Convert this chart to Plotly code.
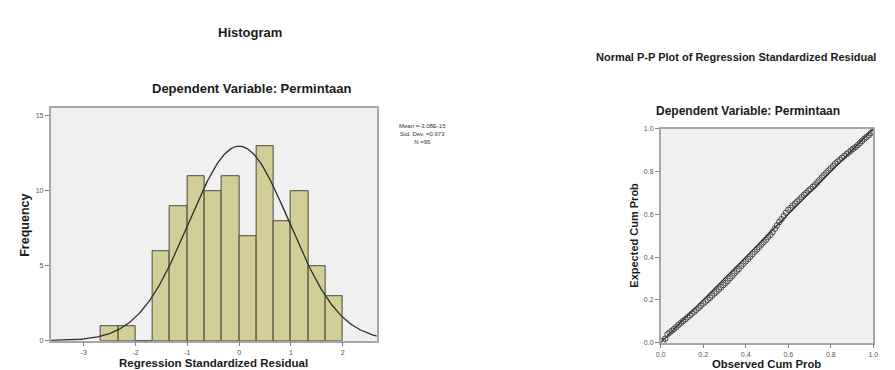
import numpy as np
import plotly.graph_objects as go

W, H = 895, 370

# ---------------- Data ----------------
# Histogram of regression standardized residuals
bin_starts = [-2.667, -2.333, -2.0, -1.667, -1.333, -1.0, -0.667, -0.333,
              0.0, 0.333, 0.667, 1.0, 1.333, 1.667]
bin_counts = [1, 1, 0, 6, 9, 11, 10, 11, 7, 13, 8, 10, 5, 3]
bin_width = 0.3333
res_mean = -3.08e-15
res_sd = 0.973
res_n = 95
hist_xticks = [-3, -2, -1, 0, 1, 2]
hist_yticks = [0, 5, 10, 15]

# Normal P-P plot
observed_cum = [0.011, 0.021, 0.032, 0.042, 0.053, 0.063, 0.074, 0.084, 0.095, 0.105,
                0.116, 0.126, 0.137, 0.147, 0.158, 0.168, 0.179, 0.189, 0.200, 0.211,
                0.221, 0.232, 0.242, 0.253, 0.263, 0.274, 0.284, 0.295, 0.305, 0.316,
                0.326, 0.337, 0.347, 0.358, 0.368, 0.379, 0.389, 0.400, 0.411, 0.421,
                0.432, 0.442, 0.453, 0.463, 0.474, 0.484, 0.495, 0.505, 0.516, 0.526,
                0.537, 0.547, 0.558, 0.568, 0.579, 0.589, 0.600, 0.611, 0.621, 0.632,
                0.642, 0.653, 0.663, 0.674, 0.684, 0.695, 0.705, 0.716, 0.726, 0.737,
                0.747, 0.758, 0.768, 0.779, 0.789, 0.800, 0.811, 0.821, 0.832, 0.842,
                0.853, 0.863, 0.874, 0.884, 0.895, 0.905, 0.916, 0.926, 0.937, 0.947,
                0.958, 0.968, 0.979, 0.989, 1.000]
expected_cum = [0.008, 0.018, 0.039, 0.047, 0.056, 0.064, 0.073, 0.083, 0.092, 0.101,
                0.109, 0.118, 0.127, 0.136, 0.145, 0.154, 0.163, 0.173, 0.183, 0.192,
                0.201, 0.210, 0.220, 0.230, 0.239, 0.249, 0.259, 0.269, 0.279, 0.289,
                0.301, 0.312, 0.324, 0.335, 0.345, 0.358, 0.369, 0.380, 0.391, 0.402,
                0.414, 0.425, 0.436, 0.447, 0.459, 0.470, 0.481, 0.493, 0.504, 0.517,
                0.533, 0.548, 0.564, 0.577, 0.592, 0.607, 0.621, 0.630, 0.641, 0.650,
                0.660, 0.669, 0.680, 0.691, 0.699, 0.710, 0.718, 0.729, 0.737, 0.749,
                0.760, 0.772, 0.783, 0.794, 0.805, 0.815, 0.826, 0.837, 0.846, 0.855,
                0.864, 0.872, 0.881, 0.889, 0.898, 0.906, 0.914, 0.923, 0.933, 0.943,
                0.953, 0.961, 0.970, 0.980, 0.989]
diag = [0.0, 1.0]
pp_ticks = [0.0, 0.2, 0.4, 0.6, 0.8, 1.0]

# ---------------- Styling helpers ----------------
FONT = "Liberation Sans, Arial, sans-serif"
BG = "#F0F0F0"
BORDER = "#A6A6A6"


def px_x(x):
    return x / W


def px_y(y):
    return 1 - y / H


# Normal curve overlay (from the stated mean / sd / N)
hist_range = [-3.64, 2.66]
cx = np.linspace(hist_range[0], hist_range[1], 300)
cy = res_n * bin_width / (res_sd * np.sqrt(2 * np.pi)) * np.exp(-0.5 * ((cx - res_mean) / res_sd) ** 2)

fig = go.Figure()

fig.add_trace(go.Bar(
    x=bin_starts, y=bin_counts, width=bin_width, offset=0,
    marker=dict(color="#D3CE97", line=dict(color="#3A3A33", width=0.9)),
    xaxis="x", yaxis="y", showlegend=False, hoverinfo="skip"))

fig.add_trace(go.Scatter(
    x=cx, y=cy, mode="lines", line=dict(color="#2E2E2E", width=1.3),
    xaxis="x", yaxis="y", showlegend=False, hoverinfo="skip"))

fig.add_trace(go.Scatter(
    x=diag, y=diag, mode="lines", line=dict(color="#222222", width=1.2),
    xaxis="x2", yaxis="y2", showlegend=False, hoverinfo="skip"))

fig.add_trace(go.Scatter(
    x=observed_cum, y=expected_cum, mode="markers",
    marker=dict(symbol="circle-open", size=5.5, color="#3A3A3A", line=dict(width=0.9)),
    xaxis="x2", yaxis="y2", showlegend=False, hoverinfo="skip"))

axis_common = dict(
    showgrid=False, zeroline=False, showline=True, linecolor=BORDER, linewidth=1.5,
    mirror=True, ticks="outside", ticklen=4, tickcolor="#808080", tickwidth=1,
    tickfont=dict(family=FONT, size=7, color="#555555"), fixedrange=True)

fig.update_layout(
    width=W, height=H,
    margin=dict(l=0, r=0, t=0, b=0),
    paper_bgcolor="white",
    plot_bgcolor=BG,
    bargap=0,
    xaxis=dict(domain=[px_x(38), px_x(368)], range=hist_range, anchor="y",
               tickvals=hist_xticks, ticktext=[str(v) for v in hist_xticks], **axis_common),
    yaxis=dict(domain=[px_y(335), px_y(98)], range=[0, 15.52], anchor="x",
               tickvals=hist_yticks, ticktext=[str(v) for v in hist_yticks], **axis_common),
    xaxis2=dict(domain=[px_x(655), px_x(870)], range=[0, 1], anchor="y2",
                tickvals=pp_ticks, ticktext=["%.1f" % v for v in pp_ticks], **axis_common),
    yaxis2=dict(domain=[px_y(337), px_y(119)], range=[0, 1], anchor="x2",
                tickvals=pp_ticks, ticktext=["%.1f" % v for v in pp_ticks], **axis_common),
)


def ann(text, x, y, size, bold=True, angle=0, xanchor="center", color="#1A1A1A"):
    fig.add_annotation(
        text=("<b>%s</b>" % text) if bold else text,
        x=px_x(x), y=px_y(y), xref="paper", yref="paper",
        xanchor=xanchor, yanchor="middle", showarrow=False, textangle=angle,
        font=dict(family=FONT, size=size, color=color))


ann("Histogram", 240, 21, 13)
ann("Dependent Variable: Permintaan", 241, 78, 13)
ann("Regression Standardized Residual", 203, 358, 11.5)
ann("Frequency", 12, 217, 12.5, angle=-90)
fig.add_annotation(
    text="Mean =%.2E<br>Std. Dev. =%.3f<br>N =%d" % (res_mean, res_sd, res_n),
    x=px_x(414), y=px_y(124), xref="paper", yref="paper", xanchor="center",
    yanchor="middle", showarrow=False, align="center",
    font=dict(family=FONT, size=6, color="#333333"))

ann("Normal P-P Plot of Regression Standardized Residual", 588, 46, 11, xanchor="left")
ann("Dependent Variable: Permintaan", 743, 101, 12)
ann("Observed Cum Prob", 762, 359, 11.3)
ann("Expected Cum Prob", 628, 227, 11, angle=-90)

fig.write_html("out.html")
